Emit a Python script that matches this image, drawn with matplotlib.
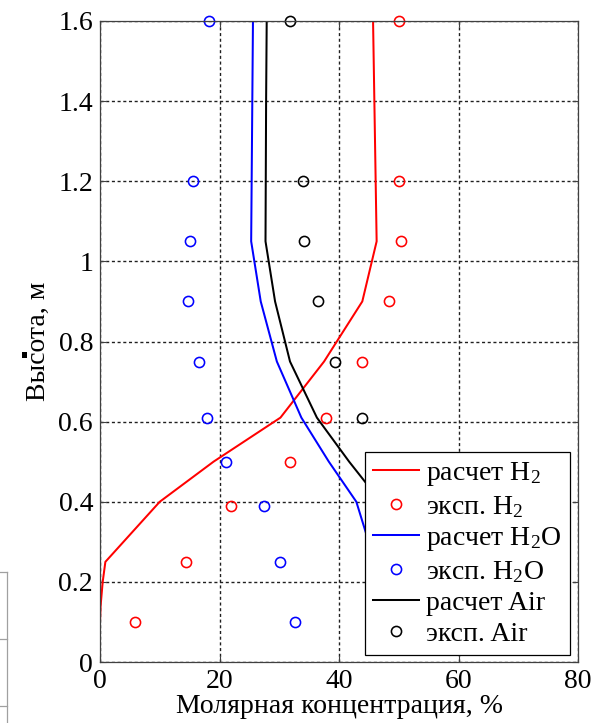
import matplotlib
matplotlib.use("Agg")
import matplotlib.pyplot as plt
from matplotlib.lines import Line2D
from matplotlib.patches import Rectangle

plt.rcParams['font.family'] = ['Liberation Serif', 'DejaVu Serif']
plt.rcParams['mathtext.fontset'] = 'custom'
plt.rcParams['mathtext.rm'] = 'Liberation Serif'
plt.rcParams['mathtext.it'] = 'Liberation Serif:italic'
plt.rcParams['mathtext.bf'] = 'Liberation Serif:bold'

# Experimental measurement heights, m
exp_height = [1.6, 1.2, 1.05, 0.9, 0.75, 0.61, 0.5, 0.39, 0.25, 0.1]
exp_h2 = [50.0, 50.0, 50.3, 48.4, 43.9, 37.9, 31.8, 22.0, 14.4, 5.9]
exp_h2o = [18.3, 15.5, 15.1, 14.7, 16.5, 17.9, 21.1, 27.4, 30.1, 32.6]
exp_air_height = [1.6, 1.2, 1.05, 0.9, 0.75, 0.61]
exp_air = [31.8, 34.0, 34.2, 36.5, 39.4, 43.8]

# Calculated profiles
calc_h2_height = [1.6, 1.05, 0.9, 0.75, 0.61, 0.5, 0.4, 0.25, 0.2, 0.14, 0.1]
calc_h2 = [45.7, 46.3, 43.9, 37.5, 30.2, 19.0, 10.0, 0.9, 0.45, 0.1, 0.0]
calc_h2o_height = [1.6, 1.05, 0.9, 0.75, 0.61, 0.5, 0.4, 0.25, 0.1]
calc_h2o = [25.6, 25.3, 26.9, 29.6, 33.7, 38.3, 42.9, 46.0, 47.0]
calc_air_height = [1.6, 1.4, 1.05, 0.9, 0.75, 0.61, 0.5, 0.4, 0.25, 0.1]
calc_air = [27.9, 27.8, 27.7, 29.3, 31.8, 36.3, 41.7, 47.0, 53.0, 53.0]

x_ticks = [0, 20, 40, 60, 80]
y_ticks = [0, 0.2, 0.4, 0.6, 0.8, 1.0, 1.2, 1.4, 1.6]
y_tick_labels = ['0', '0.2', '0.4', '0.6', '0.8', '1', '1.2', '1.4', '1.6']

W, H = 593, 723
fig = plt.figure(figsize=(W / 100, H / 100), dpi=100)
ax = fig.add_axes([100 / W, 1 - 662 / H, 478 / W, 641 / H])

lw = 1.45
ms = 7.3
mew = 1.15
ax.plot(calc_h2, calc_h2_height, color='#ff0000', lw=lw, label=r'расчет H$_2$')
ax.plot(exp_h2, exp_height, 'o', color='#ff0000', mfc='none', ms=ms, mew=mew,
        clip_on=False, label=r'эксп. H$_2$')
ax.plot(calc_h2o, calc_h2o_height, color='#0000ff', lw=lw, label=r'расчет H$_2$O')
ax.plot(exp_h2o, exp_height, 'o', color='#0000ff', mfc='none', ms=ms, mew=mew,
        clip_on=False, label=r'эксп. H$_2$O')
ax.plot(calc_air, calc_air_height, color='black', lw=lw, label='расчет Air')
ax.plot(exp_air, exp_air_height, 'o', color='black', mfc='none', ms=ms, mew=mew,
        clip_on=False, label='эксп. Air')

ax.set_xlim(0, 80)
ax.set_ylim(0, 1.6)
ax.set_xticks(x_ticks)
ax.set_xticklabels([str(v) for v in x_ticks])
ax.set_yticks(y_ticks)
ax.set_yticklabels(y_tick_labels)

fs = 20
ax.tick_params(direction='in', length=4.5, width=0.8, color='#404040',
               labelsize=fs, labelcolor='black', top=True, right=True, pad=5)
for s in ax.spines.values():
    s.set_color('#404040')
    s.set_linewidth(0.9)

ax.set_axisbelow(True)
ax.grid(True, color='#202020', lw=1.0, linestyle=(0, (2.2, 1.9)))

ax.set_xlabel('Молярная концентрация, %', fontsize=fs, labelpad=0)
ax.set_ylabel('Высота, м', fontsize=fs, labelpad=5)

leg = ax.legend(loc='lower right', bbox_to_anchor=(0.983, 0.011), borderaxespad=0,
                fontsize=fs, frameon=True, fancybox=False, framealpha=1,
                edgecolor='black', handlelength=1.65, handletextpad=0.25,
                labelspacing=0.2, borderpad=0.3, numpoints=1)
leg.get_frame().set_linewidth(0.9)

# fragment of the neighbouring panel at the left edge
frag = '#a0a0a0'
fig.add_artist(Line2D([0, 7 / W], [1 - 572 / H, 1 - 572 / H], transform=fig.transFigure,
                      color=frag, lw=0.9))
fig.add_artist(Line2D([7 / W, 7 / W], [1 - 572 / H, 0], transform=fig.transFigure,
                      color=frag, lw=0.9))
for yp in (639, 706):
    fig.add_artist(Line2D([0, 7 / W], [1 - yp / H, 1 - yp / H], transform=fig.transFigure,
                          color=frag, lw=0.9))
fig.add_artist(Rectangle((22 / W, 1 - 358 / H), 4.5 / W, 6.5 / H, transform=fig.transFigure,
                         color='black', lw=0))

fig.savefig('out.png', dpi=100)
